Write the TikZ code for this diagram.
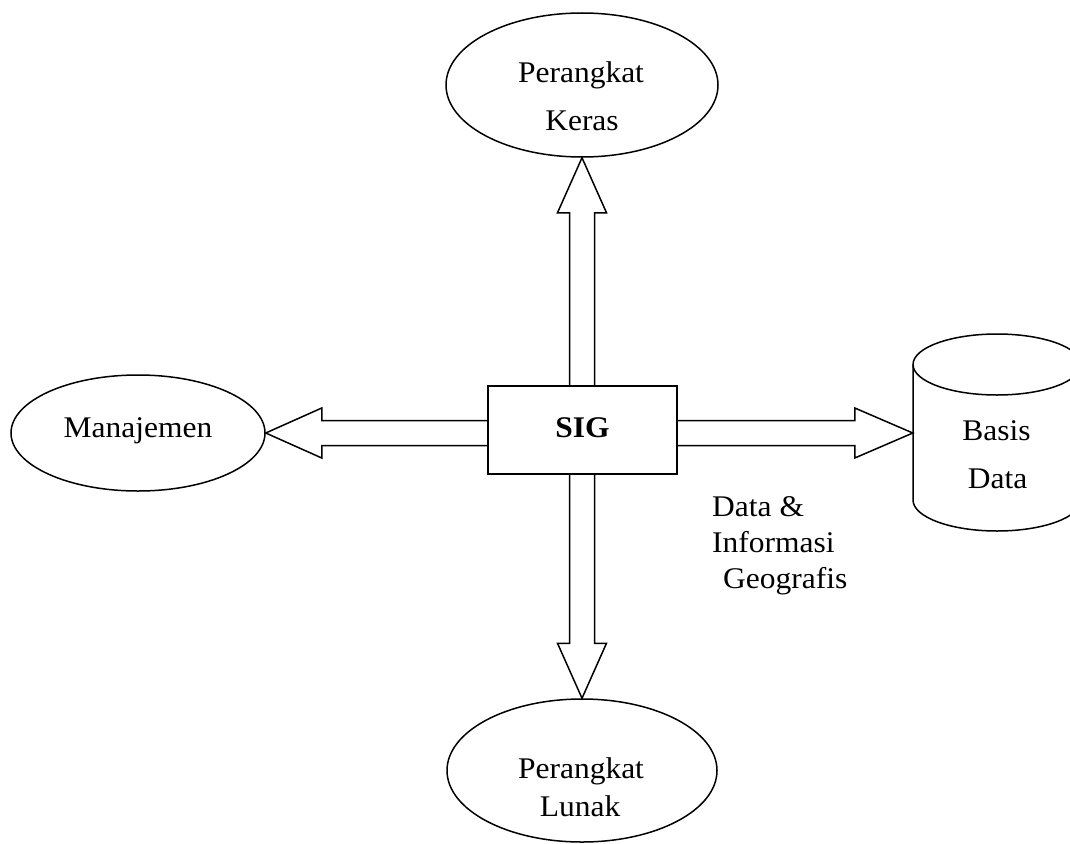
\documentclass[tikz,border=0pt]{standalone}
\usepackage{fontspec}
\setmainfont{Liberation Serif}[FakeStretch=1.05]
\usetikzlibrary{shapes.geometric,calc}
\tikzset{
  ln/.style={line width=1.5pt, draw=black},
  ell/.style={ln, ellipse, inner sep=0pt},
  blk/.style={ln, line join=miter},
  txt/.style={anchor=base, inner sep=0pt, font=\fontsize{30}{36}\selectfont},
  txtl/.style={txt, anchor=base west},
}
\begin{document}
\begin{tikzpicture}[x=1pt,y=-1pt]
\clip (0,0) rectangle (1070,843);
\fill[white] (0,0) rectangle (1070,843);
% shapes
\node[ell, minimum width=272, minimum height=144] (hw) at (582,85) {};
\node[ell, minimum width=254, minimum height=116] (man) at (138,433) {};
\node[ell, minimum width=270, minimum height=143] (sw) at (582,770.5) {};
\node[ln, rectangle, minimum width=189, minimum height=88, inner sep=0pt] (sig) at (582.5,430) {};
\node[minimum width=168, minimum height=136, inner sep=0pt] (db) at (997,433) {};
% cylinder
\draw[ln] (997,364.5) ellipse [x radius=84, y radius=30.5];
\draw[ln] (913,364.5) -- (913,500) arc[start angle=180, end angle=0, x radius=84, y radius=31] -- (1081,364.5);
% texts
\node[txt] (t1) at (581,82) {Perangkat};
\node[txt] (t2) at (582,130) {Keras};
\node[txt] (t3) at (138,437) {Manajemen};
\node[txt] (t4) at (582.5,437) {\bfseries SIG};
\node[txt] (t5) at (996.5,440) {Basis};
\node[txt] (t6) at (997.5,488) {Data};
\node[txt] (t7) at (581,778) {Perangkat};
\node[txt] (t8) at (580,816) {Lunak};
\node[txtl] (t9) at (712,516) {Data \&};
\node[txtl] (t10) at (712,552) {Informasi};
\node[txtl] (t11) at (723,588) {Geografis};
% block arrows
\coordinate (la) at ($(man.east)+(56,-12.5)$);
\coordinate (lb) at ($(man.east)+(56,12.5)$);
\draw[blk] (sig.west |- la) -- (la) -- ++(0,-12.5) -- (man.east) -- ($(man.east)+(56,25)$) -- (lb) -- (sig.west |- lb);
\coordinate (ra) at ($(db.west)+(-58,-12.5)$);
\coordinate (rb) at ($(db.west)+(-58,12.5)$);
\draw[blk] (sig.east |- ra) -- (ra) -- ++(0,-12.5) -- (db.west) -- ($(db.west)+(-58,25)$) -- (rb) -- (sig.east |- rb);
\coordinate (ua) at ($(hw.south)+(-12.5,55)$);
\coordinate (ub) at ($(hw.south)+(12.5,55)$);
\draw[blk] (sig.north -| ua) -- (ua) -- ++(-12,0) -- (hw.south) -- ($(hw.south)+(24.5,55)$) -- (ub) -- (sig.north -| ub);
\coordinate (da) at ($(sw.north)+(-12.5,-55)$);
\coordinate (dbb) at ($(sw.north)+(12.5,-55)$);
\draw[blk] (sig.south -| da) -- (da) -- ++(-12,0) -- (sw.north) -- ($(sw.north)+(24.5,-55)$) -- (dbb) -- (sig.south -| dbb);
\end{tikzpicture}
\end{document}
